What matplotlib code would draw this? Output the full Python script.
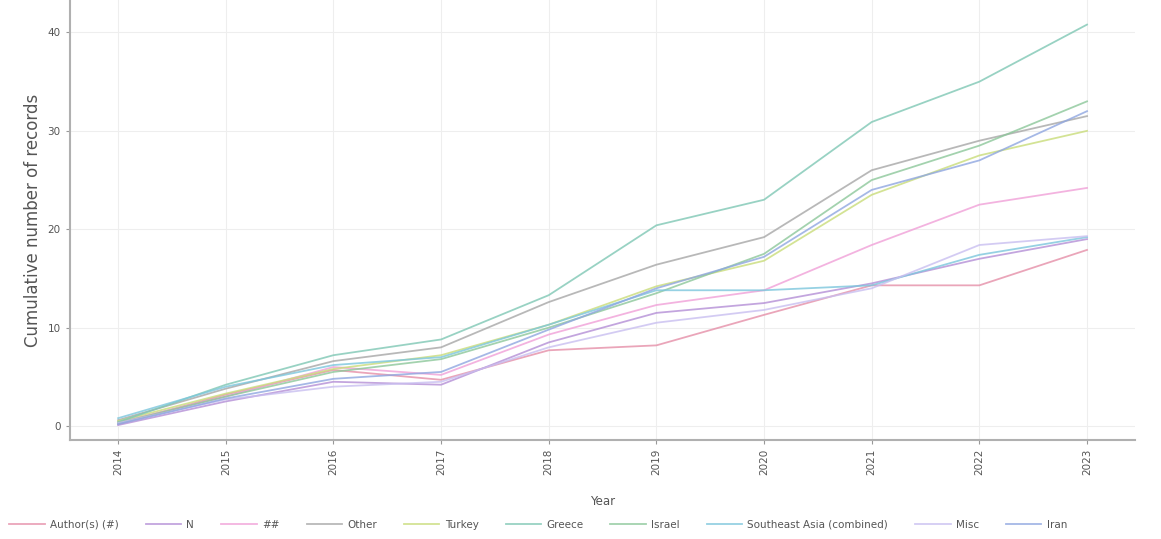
import matplotlib
matplotlib.use("Agg")
import matplotlib.pyplot as plt
import numpy as np

# Years on the x axis
years = [2014, 2015, 2016, 2017, 2018, 2019, 2020, 2021, 2022, 2023]

# Cumulative counts per group
rose = [0.2, 3.2, 5.7, 4.7, 7.7, 8.2, 11.3, 14.3, 14.3, 17.9]
purple = [0.1, 2.5, 4.5, 4.2, 8.5, 11.5, 12.5, 14.5, 17.0, 19.0]
pink = [0.4, 3.0, 6.0, 5.2, 9.3, 12.3, 13.8, 18.4, 22.5, 24.2]
other = [0.6, 3.8, 6.6, 8.0, 12.6, 16.4, 19.2, 26.0, 29.0, 31.5]
lime = [0.5, 3.3, 5.8, 7.2, 10.3, 14.2, 16.8, 23.5, 27.5, 30.0]
teal = [0.4, 4.2, 7.2, 8.8, 13.3, 20.4, 23.0, 30.9, 35.0, 40.8]
green = [0.3, 3.0, 5.5, 6.8, 10.0, 13.5, 17.5, 25.0, 28.5, 33.0]
cyan = [0.8, 4.0, 6.2, 7.0, 10.3, 13.8, 13.8, 14.3, 17.4, 19.2]
lavender = [0.3, 2.7, 4.0, 4.5, 8.0, 10.5, 11.8, 14.0, 18.4, 19.3]
blue = [0.2, 2.8, 4.8, 5.5, 9.8, 14.0, 17.2, 24.0, 27.0, 32.0]

labels = ["Author(s) (#)", "N", "##", "Other", "Turkey", "Greece", "Israel",
          "Southeast Asia (combined)", "Misc", "Iran"]
series = [rose, purple, pink, other, lime, teal, green, cyan, lavender, blue]
colors = ["#e58fa8", "#b48fd6", "#f0a0d8", "#a7a7a7", "#c9dc7a", "#7fc7b4",
          "#8cc79a", "#7cc6dc", "#c9bff0", "#8fa6e0"]

fig, ax = plt.subplots(figsize=(11.61, 5.39), dpi=100)
fig.subplots_adjust(left=0.060, right=0.978, bottom=0.184, top=1.0)

for vals, lab, col in zip(series, labels, colors):
    ax.plot(years, vals, color=col, lw=1.3, alpha=0.8, label=lab)

ax.set_xlim(2013.55, 2023.45)
ax.set_ylim(-1.4, 43.3)
ax.set_xticks(years)
ax.set_xticklabels([str(y) for y in years], rotation=90, fontsize=7.5, color="#555555")
ax.set_yticks([0, 10, 20, 30, 40])
ax.tick_params(axis="y", labelsize=7.5, labelcolor="#555555", length=3, color="#999999")
ax.tick_params(axis="x", length=3, color="#999999")

ax.grid(True, color="#eeeeee", lw=0.8)
ax.set_axisbelow(True)
for side in ["top", "right"]:
    ax.spines[side].set_visible(False)
for side in ["left", "bottom"]:
    ax.spines[side].set_color("#b0b0b0")
    ax.spines[side].set_linewidth(1.5)

ax.set_ylabel("Cumulative number of records", fontsize=12, color="#555555")
ax.set_xlabel("Year", fontsize=8.5, color="#555555", labelpad=14)

fig.legend(loc="lower left", bbox_to_anchor=(0.0, 0.0), ncol=10, frameon=False,
           fontsize=7.5, handlelength=3.4, columnspacing=2.6, handletextpad=0.5,
           labelcolor="#555555")

plt.savefig("out.png", dpi=100)
